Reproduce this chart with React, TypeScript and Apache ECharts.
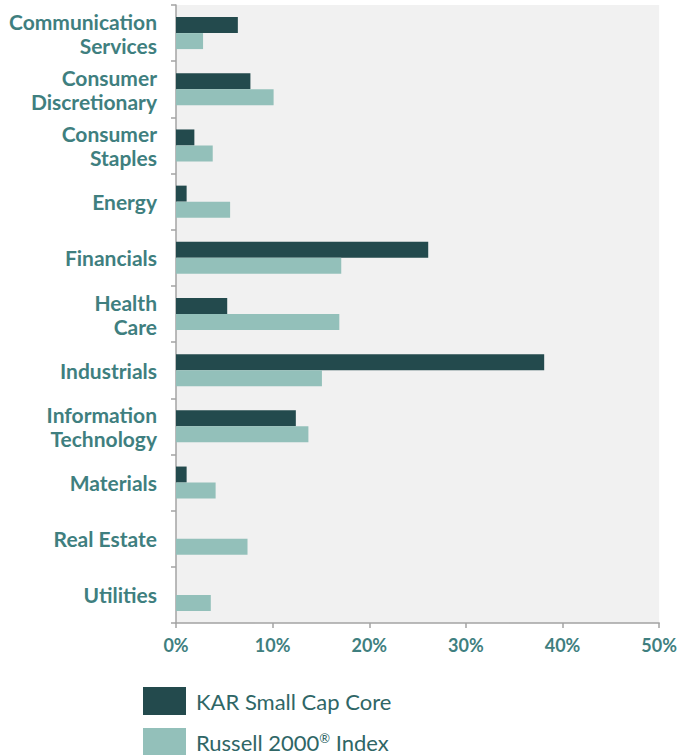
import React, { useEffect, useRef } from "react";
import * as echarts from "echarts";

const categories = [
  "Communication\nServices",
  "Consumer\nDiscretionary",
  "Consumer\nStaples",
  "Energy",
  "Financials",
  "Health\nCare",
  "Industrials",
  "Information\nTechnology",
  "Materials",
  "Real Estate",
  "Utilities",
];
const karValues = [6.4, 7.7, 1.9, 1.1, 26.1, 5.3, 38.1, 12.4, 1.1, 0, 0];
const russellValues = [2.8, 10.1, 3.8, 5.6, 17.1, 16.9, 15.1, 13.7, 4.1, 7.4, 3.6];
const xTicks = [0, 10, 20, 30, 40, 50];
const seriesNames = ["KAR Small Cap Core", "Russell 2000® Index"];

const LABEL = "#3f7f7f";
const LEGEND_TEXT = "#2f6666";
const AXIS = "#a3a3a3";

const legendText = {
  fontFamily: "Lato",
  fontSize: 22,
  color: LEGEND_TEXT,
  padding: [0, 0, 0, 5],
  rich: {
    a: { fontFamily: "Lato", fontSize: 22, color: LEGEND_TEXT },
    sup: { fontFamily: "Lato", fontSize: 13, color: LEGEND_TEXT, verticalAlign: "top", padding: [0, 0, 9, 0] },
  },
};

export default function App() {
  const ref = useRef<HTMLDivElement>(null);
  useEffect(() => {
    if (!ref.current) return;
    const chart = echarts.init(ref.current, undefined, { renderer: "svg" });
    const mkLegend = (name: string, top: number) => ({
      data: [name],
      left: 138,
      top,
      itemWidth: 43,
      itemHeight: 28,
      icon: "rect",
      textStyle: legendText,
      formatter: (n: string) => (n.includes("®") ? "{a|Russell 2000}{sup|®}{a| Index}" : n),
    });
    chart.setOption({
      animation: false,
      grid: {
        left: 176,
        right: 19,
        top: 5,
        bottom: 132,
        show: true,
        backgroundColor: "#f1f1f1",
        borderWidth: 0,
      },
      legend: [mkLegend(seriesNames[0], 682), mkLegend(seriesNames[1], 723)],
      xAxis: {
        type: "value",
        min: xTicks[0],
        max: xTicks[xTicks.length - 1],
        interval: 10,
        axisLine: { show: true, lineStyle: { color: AXIS, width: 1.5 } },
        axisTick: { show: true, length: 5, lineStyle: { color: AXIS, width: 1.5 } },
        splitLine: { show: false },
        axisLabel: {
          margin: 13,
          fontFamily: "Lato",
          fontWeight: "bold",
          fontSize: 18,
          color: LABEL,
          formatter: (v: number) => `${v}%`,
        },
      },
      yAxis: {
        type: "category",
        inverse: true,
        data: categories,
        axisLine: { show: true, lineStyle: { color: AXIS, width: 1.5 } },
        axisTick: { show: true, length: 5, lineStyle: { color: AXIS, width: 1.5 } },
        axisLabel: {
          margin: 19,
          fontFamily: "Lato",
          fontWeight: "bold",
          fontSize: 21,
          lineHeight: 24,
          color: LABEL,
          align: "right",
        },
      },
      series: [
        {
          name: seriesNames[0],
          type: "bar",
          data: karValues,
          barWidth: 16,
          barGap: "0%",
          itemStyle: { color: "#234a4d" },
        },
        {
          name: seriesNames[1],
          type: "bar",
          data: russellValues,
          barWidth: 16,
          barGap: "0%",
          itemStyle: { color: "#93c0ba" },
        },
      ],
    });
    return () => chart.dispose();
  }, []);
  return <div ref={ref} style={{ width: 680, height: 755, position: "absolute", left: 0, top: 0 }} />;
}
